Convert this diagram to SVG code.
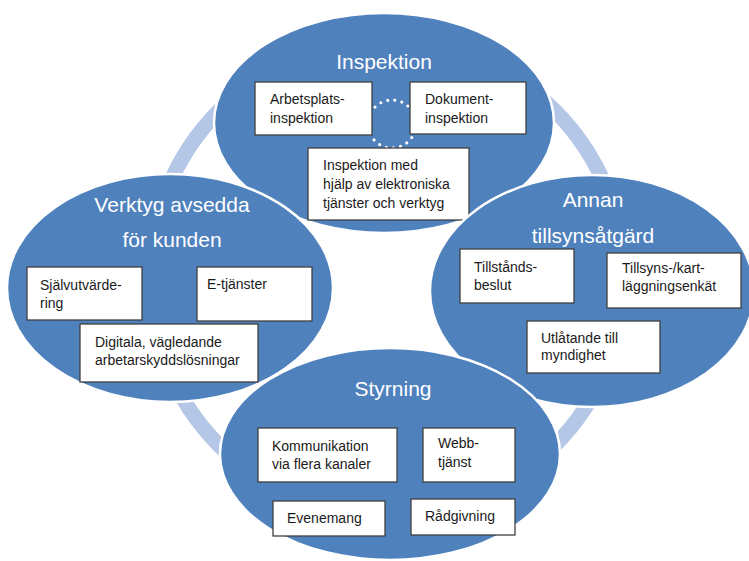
<svg xmlns="http://www.w3.org/2000/svg" width="749" height="561" viewBox="0 0 749 561">
<style>
.ell{fill:#4f81bd;stroke:#ffffff;stroke-width:2.5}
.box{fill:#ffffff;stroke:#404040;stroke-width:1.3}
.t{font-family:"Liberation Sans",Arial,sans-serif;font-size:14px;fill:#1a1a1a}
.h{font-family:"Liberation Sans",Arial,sans-serif;font-size:21px;fill:#ffffff;text-anchor:middle}
</style>
<rect width="749" height="561" fill="#ffffff"/>
<g id="connectors">
<circle cx="387" cy="278" r="237" fill="none" stroke="#b4c7e7" stroke-width="15"/>
</g>
<g id="inspektion">
<ellipse class="ell" cx="384" cy="123" rx="170" ry="110"/>
<text class="h" x="384" y="69">Inspektion</text>
<circle cx="392" cy="124" r="24" fill="none" stroke="#ffffff" stroke-width="3.2" stroke-linecap="round" stroke-dasharray="0 7.2"/>
<rect class="box" x="255" y="82" width="117" height="53"/>
<text class="t" x="270" y="104">Arbetsplats-</text>
<text class="t" x="270" y="123">inspektion</text>
<rect class="box" x="410" y="82" width="116" height="52"/>
<text class="t" x="425" y="104">Dokument-</text>
<text class="t" x="425" y="123">inspektion</text>
<rect class="box" x="308" y="148" width="161" height="72"/>
<text class="t" x="323" y="170">Inspektion med</text>
<text class="t" x="323" y="189">hjälp av elektroniska</text>
<text class="t" x="323" y="208">tjänster och verktyg</text>
</g>
<g id="verktyg">
<ellipse class="ell" cx="170" cy="288" rx="163" ry="114"/>
<text class="h" x="172" y="212">Verktyg avsedda</text>
<text class="h" x="172" y="247">för kunden</text>
<rect class="box" x="27" y="267" width="115" height="53"/>
<text class="t" x="40" y="290">Självutvärde-</text>
<text class="t" x="40" y="308">ring</text>
<rect class="box" x="197" y="267" width="115" height="54"/>
<text class="t" x="207" y="289">E-tjänster</text>
<rect class="box" x="80" y="324" width="178" height="58"/>
<text class="t" x="95" y="347">Digitala, vägledande</text>
<text class="t" x="95" y="365">arbetarskyddslösningar</text>
</g>
<g id="annan">
<ellipse class="ell" cx="592" cy="291" rx="162" ry="116"/>
<text class="h" x="593" y="207">Annan</text>
<text class="h" x="593" y="243">tillsynsåtgärd</text>
<rect class="box" x="460" y="249" width="114" height="54"/>
<text class="t" x="474" y="272">Tillstånds-</text>
<text class="t" x="474" y="290">beslut</text>
<rect class="box" x="607" y="253" width="134" height="55"/>
<text class="t" x="622" y="273">Tillsyns-/kart-</text>
<text class="t" x="622" y="291">läggningsenkät</text>
<rect class="box" x="527" y="321" width="133" height="52"/>
<text class="t" x="541" y="343">Utlåtande till</text>
<text class="t" x="541" y="360">myndighet</text>
</g>
<g id="styrning">
<ellipse class="ell" cx="390" cy="454" rx="170" ry="106"/>
<text class="h" x="393" y="396">Styrning</text>
<rect class="box" x="258" y="428" width="139" height="54"/>
<text class="t" x="272" y="451">Kommunikation</text>
<text class="t" x="272" y="469">via flera kanaler</text>
<rect class="box" x="423" y="428" width="92" height="54"/>
<text class="t" x="438" y="448">Webb-</text>
<text class="t" x="438" y="467">tjänst</text>
<rect class="box" x="273" y="501" width="112" height="35"/>
<text class="t" x="287" y="523">Evenemang</text>
<rect class="box" x="411" y="499" width="104" height="36"/>
<text class="t" x="425" y="521">Rådgivning</text>
</g>
</svg>
